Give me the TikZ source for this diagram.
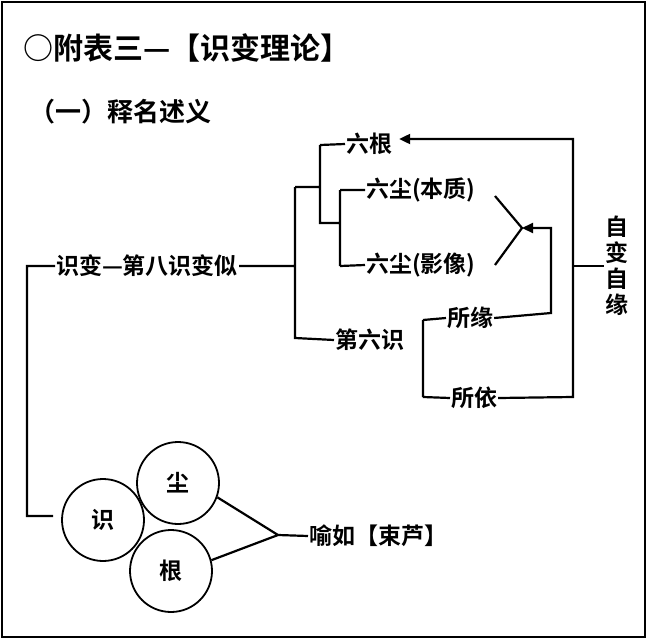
\documentclass[tikz,border=0pt]{standalone}
\usepackage{fontspec}
\setmainfont{Noto Sans CJK SC}[BoldFont={Noto Sans CJK SC Bold}]
\usetikzlibrary{arrows.meta}
\begin{document}
\begin{tikzpicture}[x=1pt, y=-1pt, line width=2.2pt,
    lbl/.style={font=\fontsize{23}{23}\selectfont\bfseries, inner sep=0pt},
    ring/.style={circle, draw, line width=1.8pt, minimum size=82pt, inner sep=0pt, font=\fontsize{23}{23}\selectfont\bfseries},
    tip/.style={-{Triangle[length=11pt,width=10pt]}}]
      \useasboundingbox (0, 0) rectangle (648, 640);
      \draw (2, 2) rectangle (645, 637);
      % headings
      \node (title) [anchor=west, font=\fontsize{30}{30}\selectfont\bfseries, inner sep=0pt] at (22, 48) {○附表三—【识变理论】};
      \node (sub) [anchor=west, font=\fontsize{26}{26}\selectfont\bfseries, inner sep=0pt] at (28, 112) {（一）释名述义};
      % labels
      \node (shibian) [lbl, anchor=west] at (55, 266) {识变—第八识变似};
      \node (liugen) [lbl, anchor=west] at (345, 144) {六根};
      \node (benzhi) [lbl, anchor=west] at (365, 190) {六尘(本质)};
      \node (yingxiang) [lbl, anchor=west] at (365, 265) {六尘(影像)};
      \node (diliu) [lbl, anchor=west] at (334, 340) {第六识};
      \node (suoyuan) [lbl, anchor=west] at (446, 318) {所缘};
      \node (suoyi) [lbl, anchor=west] at (450, 398) {所依};
      \node (zibian) [lbl, align=center] at (617, 266) {自\\[3pt]变\\[3pt]自\\[3pt]缘};
      \node (yuru) [lbl, anchor=west] at (308, 536) {喻如【束芦】};
      \node (shi) [ring] at (103, 520) {识};
      \node (chen) [ring] at (178, 483) {尘};
      \node (gen) [ring] at (171, 571) {根};
      % brackets
      \coordinate (meet) at (522, 228);
      \coordinate (fork) at (278, 535);
      \draw (shibian.east) -- (295, 266) (295, 187) -- (295, 338) -- (diliu.west)
            (295, 187) -- (320, 187) (320, 145) -- (320, 223) -- (340, 223)
            (320, 145) -- (liugen.west)
            (340, 190) -- (340, 266) (340, 190) -- (benzhi.west) (340, 266) -- (yingxiang.west)
            (423, 320) -- (423, 397) (423, 320) -- (suoyuan.west) (423, 397) -- (suoyi.west)
            (shibian.west) -- (27, 266) -- (27, 516) -- (53, 516)
            (495, 196) -- (meet) -- (495, 265)
            (chen.-20) -- (fork) -- (gen.15) (fork) -- (yuru.west);
      \draw[tip] (suoyuan.east) -- (551, 313) -- (551, 228) -- (meet);
      \draw[tip] (suoyi.east) -- (573, 397) -- (573, 139) -- ([xshift=6pt]liugen.east |- 0, 139);
      \draw (573, 266) -- (zibian.west);
\end{tikzpicture}
\end{document}
